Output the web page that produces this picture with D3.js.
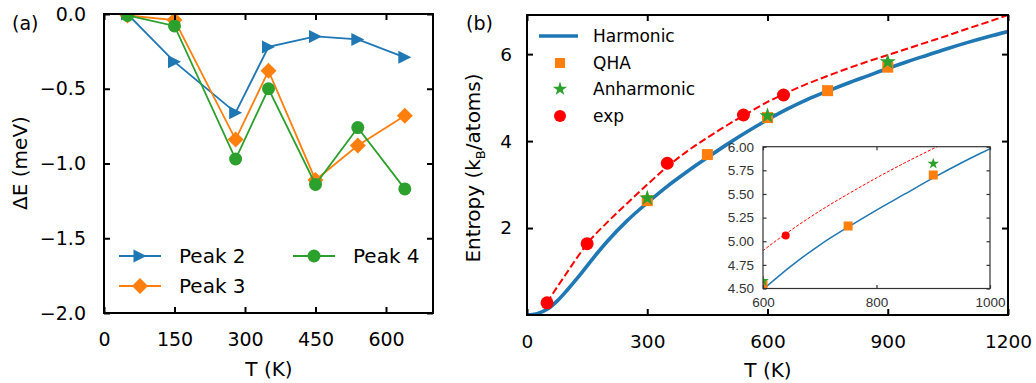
<!DOCTYPE html>
<html>
<head>
<meta charset="utf-8">
<script src="https://cdn.jsdelivr.net/npm/d3@7"></script>
<style>
  body { margin: 0; background: #fff; }
  svg text { font-family: "DejaVu Sans", sans-serif; fill: #000; }
  .inset text { font-family: "Liberation Sans", Arial, sans-serif; fill: #333; }
</style>
</head>
<body>
<svg id="chart" width="1036" height="383"></svg>
<script>
// ---- panel (a): peak shifts
const tempA = [50, 150, 280, 350, 450, 540, 640];
const peak2 = [0.0, -0.32, -0.66, -0.22, -0.15, -0.17, -0.29];
const peak3 = [-0.01, -0.04, -0.84, -0.38, -1.11, -0.88, -0.68];
const peak4 = [-0.01, -0.08, -0.97, -0.50, -1.14, -0.76, -1.17];
const ticksAx = [0, 150, 300, 450, 600];
const ticksAy = [0, -0.5, -1.0, -1.5, -2.0];

// ---- panel (b): entropy
const harmT = [0, 25, 50, 75, 100, 125, 150, 175, 200, 250, 300, 350, 400, 450, 500, 550, 600,
               650, 700, 750, 800, 850, 900, 950, 1000, 1050, 1100, 1150, 1200];
const harmS = [0, 0.03, 0.13, 0.32, 0.57, 0.84, 1.13, 1.42, 1.69, 2.17, 2.58, 2.96, 3.30, 3.62, 3.93, 4.22, 4.49,
               4.74, 4.96, 5.15, 5.33, 5.5, 5.67, 5.83, 5.98, 6.13, 6.27, 6.4, 6.52];
const fitT = [50, 75, 100, 125, 150, 200, 250, 300, 350, 400, 450, 500, 550, 600,
              650, 700, 750, 800, 850, 900, 950, 1000, 1050, 1100, 1150, 1200];
const fitS = [0.28, 0.64, 0.98, 1.32, 1.64, 2.13, 2.57, 3.0, 3.41, 3.77, 4.08, 4.37, 4.64, 4.9,
              5.12, 5.32, 5.5, 5.67, 5.83, 5.98, 6.13, 6.28, 6.43, 6.59, 6.74, 6.9];
const qhaT = [300, 450, 600, 750, 900];
const qhaS = [2.63, 3.69, 4.54, 5.16, 5.70];
const anhT = [300, 600, 900];
const anhS = [2.69, 4.58, 5.82];
const expT = [50, 150, 350, 540, 640];
const expS = [0.28, 1.64, 3.49, 4.6, 5.06];
const ticksBx = [0, 300, 600, 900, 1200];
const ticksBy = [2, 4, 6];
const ticksIx = [600, 800, 1000];
const ticksIy = [4.5, 4.75, 5.0, 5.25, 5.5, 5.75, 6.0];

const blue = "#1f77b4", orange = "#ff7f0e", green = "#2ca02c", red = "#ff0000";
const svg = d3.select("#chart");
const defs = svg.append("defs");

function clip(id, x, y, w, h) {
  defs.append("clipPath").attr("id", id).append("rect")
    .attr("x", x).attr("y", y).attr("width", w).attr("height", h);
}

// draw a full box of inward ticks with d3 axes
function frameAxes(g, x, y, o) {
  const [x0, x1] = x.range(), [y1, y0] = y.range();
  const fix = sel => {
    sel.select(".domain").remove();
    sel.selectAll(".tick line").attr("stroke", o.color).attr("stroke-width", o.tw);
    sel.selectAll(".tick text").style("font-size", o.fs + "px").attr("fill", o.color == "#000" ? "#000" : "#333");
  };
  g.append("g").attr("transform", `translate(0,${y1})`)
    .call(d3.axisBottom(x).tickValues(o.xt).tickSizeInner(-o.tl).tickSizeOuter(0).tickPadding(o.px).tickFormat(o.xf))
    .call(fix);
  g.append("g").attr("transform", `translate(0,${y0})`)
    .call(d3.axisTop(x).tickValues(o.xt).tickSizeInner(-o.tl).tickSizeOuter(0).tickFormat(""))
    .call(fix);
  g.append("g").attr("transform", `translate(${x0},0)`)
    .call(d3.axisLeft(y).tickValues(o.yt).tickSizeInner(-o.tl).tickSizeOuter(0).tickPadding(o.py).tickFormat(o.yf))
    .call(fix);
  g.append("g").attr("transform", `translate(${x1},0)`)
    .call(d3.axisRight(y).tickValues(o.yt).tickSizeInner(-o.tl).tickSizeOuter(0).tickFormat(""))
    .call(fix);
  g.append("rect").attr("x", x0).attr("y", y0).attr("width", x1 - x0).attr("height", y1 - y0)
    .attr("fill", "none").attr("stroke", o.color).attr("stroke-width", o.fw);
}

const triRight = s => `M${s / 2},0L${-s / 2},${s / 2}L${-s / 2},${-s / 2}Z`;
const diamond = s => `M0,${-s / 2}L${s / 2},0L0,${s / 2}L${-s / 2},0Z`;
const square = s => `M${-s / 2},${-s / 2}h${s}v${s}h${-s}Z`;
const star = r => d3.symbol().type(d3.symbolStar).size(r * r / 0.8908130915292852)();

// ================= panel (a)
const xa = d3.scaleLinear().domain([0, 700]).range([104, 433]);
const ya = d3.scaleLinear().domain([-2, 0]).range([313, 14]);
clip("clipA", 104, 14, 329, 299);
const ga = svg.append("g");
const plotA = ga.append("g").attr("clip-path", "url(#clipA)");

const seriesA = [
  { name: "Peak 2", vals: peak2, color: blue, marker: "tri" },
  { name: "Peak 3", vals: peak3, color: orange, marker: "dia" },
  { name: "Peak 4", vals: peak4, color: green, marker: "circ" }
];
function markA(sel, m, color) {
  if (m === "circ") return sel.append("circle").attr("r", 6.5).attr("fill", color);
  return sel.append("path").attr("d", m === "tri" ? triRight(13) : diamond(16)).attr("fill", color);
}
seriesA.forEach(s => {
  const pts = tempA.map((t, i) => [xa(t), ya(s.vals[i])]);
  plotA.append("path").attr("d", d3.line()(pts)).attr("fill", "none")
    .attr("stroke", s.color).attr("stroke-width", 1.8);
  pts.forEach(p => markA(plotA.append("g").attr("transform", `translate(${p[0]},${p[1]})`), s.marker, s.color));
});

frameAxes(ga, xa, ya, {
  xt: ticksAx, yt: ticksAy, tl: 6, tw: 2, fw: 2, fs: 19, px: 20, py: 18, color: "#000",
  xf: d3.format("d"), yf: d => d3.format(".1f")(d).replace("-", "\u2212")
});

// legend (a)
const legA = [
  { s: seriesA[0], x: 119, y: 256 },
  { s: seriesA[1], x: 119, y: 286 },
  { s: seriesA[2], x: 293, y: 256 }
];
legA.forEach(l => {
  const g = ga.append("g");
  g.append("line").attr("x1", l.x).attr("x2", l.x + 42).attr("y1", l.y).attr("y2", l.y)
    .attr("stroke", l.s.color).attr("stroke-width", 1.8);
  markA(g.append("g").attr("transform", `translate(${l.x + 21},${l.y})`), l.s.marker, l.s.color);
  g.append("text").attr("x", l.x + 60).attr("y", l.y + 7).style("font-size", "20px").text(l.s.name);
});

ga.append("text").attr("x", 269).attr("y", 376).attr("text-anchor", "middle").style("font-size", "20px").text("T (K)");
ga.append("text").attr("transform", "translate(27,163) rotate(-90)").attr("text-anchor", "middle")
  .style("font-size", "20px").text("\u0394E (meV)");
ga.append("text").attr("x", 12).attr("y", 30).style("font-size", "19px").text("(a)");

// ================= panel (b)
const xb = d3.scaleLinear().domain([0, 1200]).range([527, 1008]);
const yb = d3.scaleLinear().domain([0, 6.9]).range([315, 15]);
clip("clipB", 527, 15, 481, 300);
const gb = svg.append("g");
const plotB = gb.append("g").attr("clip-path", "url(#clipB)");

function drawEntropy(g, x, y, o) {
  const line = d3.line().curve(d3.curveMonotoneX).x(d => x(d[0])).y(d => y(d[1]));
  g.append("path").attr("d", line(harmT.map((t, i) => [t, harmS[i]]))).attr("fill", "none")
    .attr("stroke", blue).attr("stroke-width", o.hw);
  g.append("path").attr("d", line(fitT.map((t, i) => [t, fitS[i]]))).attr("fill", "none")
    .attr("stroke", red).attr("stroke-width", o.dw).attr("stroke-dasharray", o.dash);
  qhaT.forEach((t, i) => g.append("path").attr("transform", `translate(${x(t)},${y(qhaS[i])})`)
    .attr("d", square(o.sq)).attr("fill", orange));
  anhT.forEach((t, i) => g.append("path").attr("transform", `translate(${x(t)},${y(anhS[i])})`)
    .attr("d", star(o.st)).attr("fill", green));
  expT.forEach((t, i) => g.append("circle").attr("cx", x(t)).attr("cy", y(expS[i]))
    .attr("r", o.cr).attr("fill", red));
}
drawEntropy(plotB, xb, yb, { hw: 3.6, dw: 2, dash: "7.4,3.2", sq: 11, st: 8.5, cr: 6.5 });

frameAxes(gb, xb, yb, {
  xt: ticksBx, yt: ticksBy, tl: 6, tw: 2, fw: 2, fs: 18.5, px: 20, py: 15, color: "#000",
  xf: d3.format("d"), yf: d3.format("d")
});

// legend (b)
const legB = [
  { name: "Harmonic", y: 36, kind: "line" },
  { name: "QHA", y: 63, kind: "sq" },
  { name: "Anharmonic", y: 89, kind: "star" },
  { name: "exp", y: 116, kind: "circ" }
];
legB.forEach(l => {
  const cx = 560;
  if (l.kind === "line") gb.append("line").attr("x1", 539).attr("x2", 578).attr("y1", l.y).attr("y2", l.y)
    .attr("stroke", blue).attr("stroke-width", 3.6);
  if (l.kind === "sq") gb.append("path").attr("transform", `translate(${cx},${l.y})`).attr("d", square(10)).attr("fill", orange);
  if (l.kind === "star") gb.append("path").attr("transform", `translate(${cx},${l.y})`).attr("d", star(7.5)).attr("fill", green);
  if (l.kind === "circ") gb.append("circle").attr("cx", cx).attr("cy", l.y).attr("r", 6).attr("fill", red);
  gb.append("text").attr("x", 593).attr("y", l.y + 6).style("font-size", "17px").text(l.name);
});

gb.append("text").attr("x", 768).attr("y", 377).attr("text-anchor", "middle").style("font-size", "20px").text("T (K)");
const yl = gb.append("text").attr("transform", "translate(480,168) rotate(-90)").attr("text-anchor", "middle")
  .style("font-size", "20px");
yl.append("tspan").text("Entropy (k");
yl.append("tspan").attr("dy", 5).style("font-size", "13px").text("B");
yl.append("tspan").attr("dy", -5).text("/atoms)");
gb.append("text").attr("x", 466).attr("y", 30).style("font-size", "19px").text("(b)");

// ================= inset
const xi = d3.scaleLinear().domain([600, 1000]).range([763, 990]);
const yi = d3.scaleLinear().domain([4.5, 6.0]).range([288.5, 146.7]);
const gi = svg.append("g").attr("class", "inset");
gi.append("rect").attr("x", 763).attr("y", 146.7).attr("width", 227).attr("height", 141.8).attr("fill", "#fff");
clip("clipI", 763, 146.7, 227, 141.8);
const plotI = gi.append("g").attr("clip-path", "url(#clipI)");
drawEntropy(plotI, xi, yi, { hw: 1.5, dw: 1, dash: "3,1.6", sq: 9, st: 6, cr: 4 });
frameAxes(gi, xi, yi, {
  xt: ticksIx, yt: ticksIy, tl: 3.5, tw: 1.2, fw: 1.2, fs: 13.5, px: 9, py: 9, color: "#333",
  xf: d3.format("d"), yf: d3.format(".2f")
});
</script>
</body>
</html>
